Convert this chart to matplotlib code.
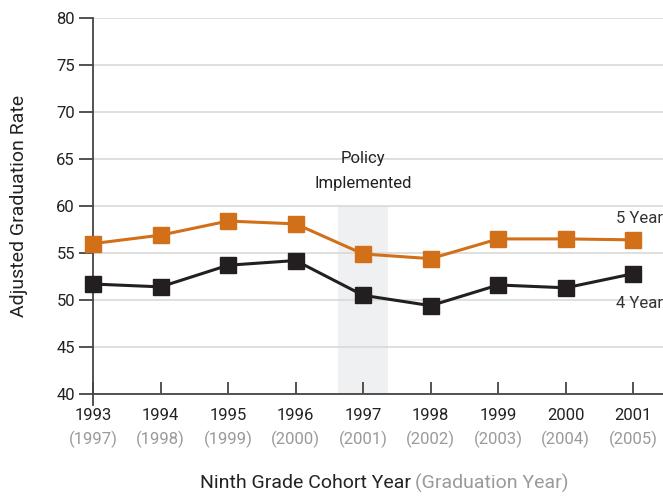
import matplotlib
matplotlib.use("Agg")
import matplotlib.pyplot as plt

cohort = [1993, 1994, 1995, 1996, 1997, 1998, 1999, 2000, 2001]
grad_year = [1997, 1998, 1999, 2000, 2001, 2002, 2003, 2004, 2005]
five_year = [56.0, 56.9, 58.4, 58.1, 54.9, 54.4, 56.5, 56.5, 56.4]
four_year = [51.7, 51.4, 53.7, 54.2, 50.5, 49.4, 51.6, 51.3, 52.8]
policy_year = 1997

orange = '#d2701a'
black = '#231f20'
grey = '#9a9a9a'

plt.rcParams['font.family'] = ['Roboto', 'DejaVu Sans']

fig = plt.figure(figsize=(6.63, 4.96), dpi=100)
ax = fig.add_axes([0.1403, 0.2056, 0.8597, 0.7581])

# shaded policy band
ax.fill_between([policy_year - 0.37, policy_year + 0.37], 40, 60,
                color='#eef0f2', zorder=0, linewidth=0)

ax.plot(cohort, five_year, color=orange, lw=2.2, marker='s', ms=11.5,
        zorder=3, clip_on=False)
ax.plot(cohort, four_year, color=black, lw=2.2, marker='s', ms=11.5,
        zorder=3, clip_on=False)

ax.set_xlim(1993, 2001.44)
ax.set_ylim(40, 80)
ax.set_yticks(range(40, 81, 5))
ax.set_xticks(cohort)
ax.set_xticklabels([str(c) for c in cohort])
ax.yaxis.grid(True, color='#d9d9d9', lw=1.2)
ax.set_axisbelow(True)

for s in ['top', 'right']:
    ax.spines[s].set_visible(False)
for s in ['left', 'bottom']:
    ax.spines[s].set_color('#444444')
    ax.spines[s].set_linewidth(1.3)
ax.spines['left'].set_bounds(38.8, 80)

ax.tick_params(axis='y', direction='out', length=10, width=1.3, color='#444444',
               labelsize=12, labelcolor='#222222', pad=3)
ax.tick_params(axis='x', direction='in', length=9, width=1.3, color='#444444',
               labelsize=12, labelcolor='#222222', pad=10)

for c, g in zip(cohort, grad_year):
    ax.annotate(f'({g})', xy=(c, 0), xycoords=('data', 'axes fraction'),
                xytext=(0, -33), textcoords='offset points', ha='center',
                va='center', fontsize=12, color=grey, annotation_clip=False)

ax.text(policy_year, 65.1, 'Policy', ha='center', va='center', fontsize=12, color='#222222')
ax.text(policy_year, 62.4, 'Implemented', ha='center', va='center', fontsize=12, color='#222222')

ax.text(1.0, 58.7, '5 Year', transform=ax.get_yaxis_transform(), ha='right',
        va='center', fontsize=12, color='#333333')
ax.text(1.0, 49.6, '4 Year', transform=ax.get_yaxis_transform(), ha='right',
        va='center', fontsize=12, color='#333333')

ax.set_ylabel('Adjusted Graduation Rate', fontsize=14, color='#222222', labelpad=20)

fig.text(0.620, 0.026, 'Ninth Grade Cohort Year', ha='right', va='center',
         fontsize=14, color='#222222')
fig.text(0.626, 0.026, '(Graduation Year)', ha='left', va='center',
         fontsize=14, color=grey)

fig.savefig('out.png', dpi=100)
